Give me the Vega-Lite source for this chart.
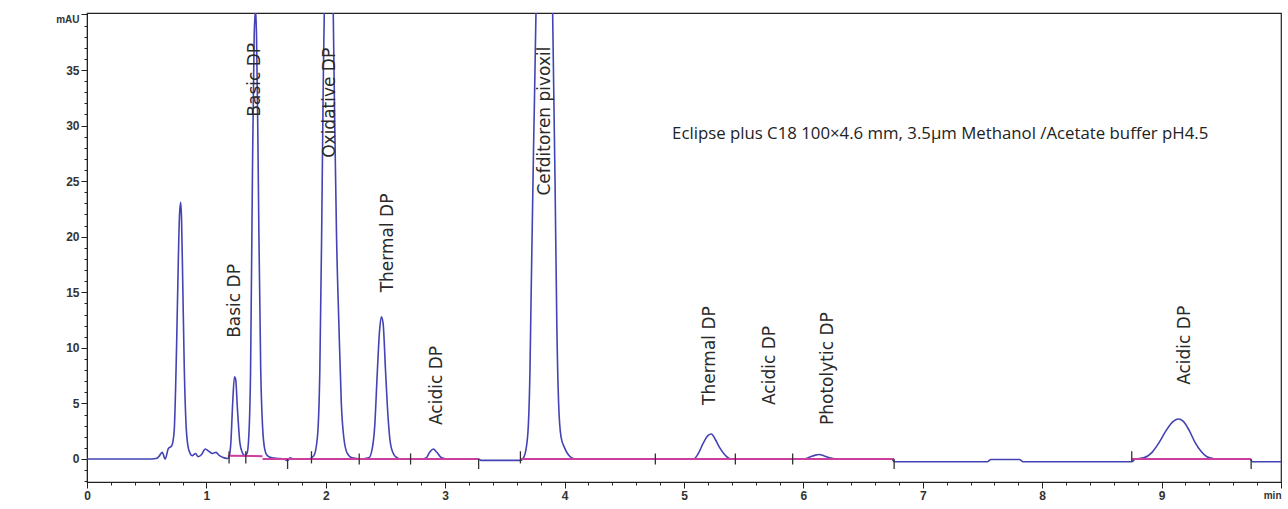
{
  "$schema": "https://vega.github.io/schema/vega-lite/v6.json",
  "width": 1194,
  "height": 469,
  "autosize": {"type": "none"},
  "padding": {"left": 87, "top": 13, "right": 7, "bottom": 27},
  "background": "white",
  "config": {
    "view": {"stroke": "#222", "strokeWidth": 1.2},
    "axis": {"grid": false, "domainColor": "#222", "tickColor": "#222", "labelColor": "#333", "labelFont": "Liberation Sans", "labelFontSize": 12, "labelFontWeight": "bold", "title": null, "labelOverlap": false, "labelBound": false, "labelFlush": false}
  },
  "datasets": {
    "trace": [
      {"t": 0, "v": 0}, {"t": 0.5, "v": 0}, {"t": 0.58, "v": 0.05}, {"t": 0.6, "v": 0.2}, {"t": 0.63, "v": 0.6}, {"t": 0.655, "v": 0.0},
      {"t": 0.68, "v": 0.9}, {"t": 0.71, "v": 1.2}, {"t": 0.73, "v": 2.5}, {"t": 0.75, "v": 10}, {"t": 0.765, "v": 18}, {"t": 0.775, "v": 22},
      {"t": 0.785, "v": 23.1}, {"t": 0.792, "v": 21.5}, {"t": 0.8, "v": 17}, {"t": 0.815, "v": 8}, {"t": 0.83, "v": 3}, {"t": 0.845, "v": 1.2},
      {"t": 0.86, "v": 0.6}, {"t": 0.88, "v": 0.3}, {"t": 0.91, "v": 0.5}, {"t": 0.93, "v": 0.2}, {"t": 0.96, "v": 0.4}, {"t": 0.99, "v": 0.9},
      {"t": 1.02, "v": 0.7}, {"t": 1.05, "v": 0.5}, {"t": 1.08, "v": 0.6}, {"t": 1.11, "v": 0.3}, {"t": 1.15, "v": 0.1}, {"t": 1.18, "v": 0.05},
      {"t": 1.19, "v": 0.2}, {"t": 1.205, "v": 1.5}, {"t": 1.22, "v": 5}, {"t": 1.235, "v": 7.4}, {"t": 1.245, "v": 7.2}, {"t": 1.26, "v": 4.5},
      {"t": 1.28, "v": 1.5}, {"t": 1.3, "v": 0.6}, {"t": 1.32, "v": 0.3}, {"t": 1.34, "v": 0.5}, {"t": 1.355, "v": 2}, {"t": 1.37, "v": 8},
      {"t": 1.385, "v": 25}, {"t": 1.4, "v": 38}, {"t": 1.412, "v": 40.5}, {"t": 1.42, "v": 38}, {"t": 1.43, "v": 30}, {"t": 1.44, "v": 20},
      {"t": 1.455, "v": 8}, {"t": 1.47, "v": 3}, {"t": 1.49, "v": 0.8}, {"t": 1.51, "v": 0.3}, {"t": 1.55, "v": 0.1}, {"t": 1.6, "v": 0.05},
      {"t": 1.65, "v": 0}, {"t": 1.68, "v": -0.15}, {"t": 1.7, "v": 0.1}, {"t": 1.73, "v": 0}, {"t": 1.85, "v": 0}, {"t": 1.9, "v": 0.3},
      {"t": 1.93, "v": 2}, {"t": 1.95, "v": 8}, {"t": 1.965, "v": 20}, {"t": 1.98, "v": 35}, {"t": 1.99, "v": 42}, {"t": 2.03, "v": 60},
      {"t": 2.06, "v": 42}, {"t": 2.075, "v": 30}, {"t": 2.09, "v": 20}, {"t": 2.11, "v": 12}, {"t": 2.13, "v": 5}, {"t": 2.15, "v": 2},
      {"t": 2.18, "v": 0.5}, {"t": 2.22, "v": 0.1}, {"t": 2.3, "v": 0}, {"t": 2.36, "v": 0.1}, {"t": 2.39, "v": 1}, {"t": 2.41, "v": 3},
      {"t": 2.43, "v": 7.5}, {"t": 2.45, "v": 11.5}, {"t": 2.465, "v": 12.8}, {"t": 2.48, "v": 12.2}, {"t": 2.5, "v": 8}, {"t": 2.52, "v": 4},
      {"t": 2.54, "v": 1.5}, {"t": 2.57, "v": 0.4}, {"t": 2.6, "v": 0.1}, {"t": 2.62, "v": 0}, {"t": 2.8, "v": 0}, {"t": 2.84, "v": 0.1},
      {"t": 2.87, "v": 0.6}, {"t": 2.9, "v": 0.9}, {"t": 2.93, "v": 0.6}, {"t": 2.96, "v": 0.2}, {"t": 2.99, "v": 0.05}, {"t": 3.02, "v": 0},
      {"t": 3.28, "v": 0}, {"t": 3.3, "v": -0.12}, {"t": 3.63, "v": -0.12}, {"t": 3.66, "v": 0.2}, {"t": 3.69, "v": 2}, {"t": 3.71, "v": 8},
      {"t": 3.72, "v": 15}, {"t": 3.74, "v": 28}, {"t": 3.76, "v": 40}, {"t": 3.78, "v": 60}, {"t": 3.83, "v": 75}, {"t": 3.88, "v": 60},
      {"t": 3.9, "v": 40}, {"t": 3.92, "v": 25}, {"t": 3.935, "v": 12}, {"t": 3.95, "v": 5}, {"t": 3.97, "v": 2}, {"t": 4.0, "v": 1},
      {"t": 4.03, "v": 0.4}, {"t": 4.06, "v": 0.1}, {"t": 4.1, "v": 0}, {"t": 5.08, "v": 0}, {"t": 5.12, "v": 0.5}, {"t": 5.16, "v": 1.4},
      {"t": 5.2, "v": 2.1}, {"t": 5.23, "v": 2.25}, {"t": 5.26, "v": 1.8}, {"t": 5.3, "v": 1.0}, {"t": 5.34, "v": 0.4}, {"t": 5.38, "v": 0.05},
      {"t": 5.42, "v": 0}, {"t": 6.0, "v": 0}, {"t": 6.05, "v": 0.15}, {"t": 6.1, "v": 0.35}, {"t": 6.13, "v": 0.4}, {"t": 6.17, "v": 0.3},
      {"t": 6.22, "v": 0.1}, {"t": 6.27, "v": 0}, {"t": 6.74, "v": 0}, {"t": 6.76, "v": -0.25}, {"t": 7.54, "v": -0.25}, {"t": 7.57, "v": -0.05},
      {"t": 7.81, "v": -0.05}, {"t": 7.84, "v": -0.25}, {"t": 8.75, "v": -0.25}, {"t": 8.78, "v": 0}, {"t": 8.85, "v": 0.1}, {"t": 8.92, "v": 0.6},
      {"t": 8.98, "v": 1.5}, {"t": 9.04, "v": 2.6}, {"t": 9.1, "v": 3.4}, {"t": 9.14, "v": 3.6}, {"t": 9.18, "v": 3.4}, {"t": 9.23, "v": 2.6},
      {"t": 9.28, "v": 1.5}, {"t": 9.33, "v": 0.7}, {"t": 9.38, "v": 0.2}, {"t": 9.43, "v": 0.05}, {"t": 9.47, "v": 0}, {"t": 9.74, "v": 0},
      {"t": 9.76, "v": -0.25}, {"t": 10, "v": -0.25}
    ],
    "base": [
      {"seg": "a", "t": 1.18, "v": 0.3}, {"seg": "a", "t": 1.47, "v": 0.25},
      {"seg": "b", "t": 1.47, "v": 0}, {"seg": "b", "t": 3.28, "v": 0},
      {"seg": "c", "t": 3.63, "v": 0}, {"seg": "c", "t": 6.76, "v": 0},
      {"seg": "d", "t": 8.75, "v": 0}, {"seg": "d", "t": 9.75, "v": 0}
    ],
    "events": [
      {"t": 1.19, "lo": -0.4, "hi": 0.7}, {"t": 1.33, "lo": -0.4, "hi": 0.7}, {"t": 1.68, "lo": -0.9, "hi": 0},
      {"t": 1.88, "lo": -0.4, "hi": 0.7}, {"t": 2.28, "lo": -0.5, "hi": 0.5}, {"t": 2.71, "lo": -0.5, "hi": 0.5},
      {"t": 3.28, "lo": -0.9, "hi": 0}, {"t": 3.63, "lo": -0.4, "hi": 0.7}, {"t": 4.76, "lo": -0.5, "hi": 0.5},
      {"t": 5.43, "lo": -0.5, "hi": 0.5}, {"t": 5.91, "lo": -0.5, "hi": 0.5}, {"t": 6.76, "lo": -0.9, "hi": 0},
      {"t": 8.75, "lo": -0.2, "hi": 0.7}, {"t": 9.75, "lo": -0.9, "hi": 0}
    ],
    "labels": [
      {"name": "Basic DP", "t": 1.239, "v": 10.9},
      {"name": "Basic DP", "t": 1.407, "v": 30.8},
      {"name": "Oxidative DP", "t": 2.035, "v": 27.1},
      {"name": "Thermal DP", "t": 2.52, "v": 15.0},
      {"name": "Acidic DP", "t": 2.93, "v": 3.06},
      {"name": "Cefditoren pivoxil", "t": 3.835, "v": 23.7},
      {"name": "Thermal DP", "t": 5.216, "v": 4.86},
      {"name": "Acidic DP", "t": 5.718, "v": 4.86},
      {"name": "Photolytic DP", "t": 6.204, "v": 3.06},
      {"name": "Acidic DP", "t": 9.2, "v": 6.67}
    ],
    "note": [
      {"text": "Eclipse plus C18 100×4.6 mm, 3.5µm Methanol /Acetate buffer pH4.5", "t": 4.9, "v": 29.2}
    ]
  },
  "layer": [
    {
      "data": {"name": "trace"},
      "mark": {"type": "line", "color": "#4343b4", "strokeWidth": 1.6, "clip": true, "interpolate": "monotone"},
      "encoding": {
        "x": {"field": "t", "type": "quantitative", "scale": {"domain": [0, 10], "nice": false, "zero": false},
          "axis": {"orient": "bottom", "tickCount": 200,
            "values": [0,0.2,0.4,0.6,0.8,1,1.2,1.4,1.6,1.8,2,2.2,2.4,2.6,2.8,3,3.2,3.4,3.6,3.8,4,4.2,4.4,4.6,4.8,5,5.2,5.4,5.6,5.8,6,6.2,6.4,6.6,6.8,7,7.2,7.4,7.6,7.8,8,8.2,8.4,8.6,8.8,9,9.2,9.4,9.6,9.8,10],
            "tickSize": {"condition": {"test": "abs(datum.value - round(datum.value)) < 0.001", "value": 6}, "value": 3},
            "labelPadding": 2,
            "labelExpr": "abs(datum.value - round(datum.value)) > 0.001 ? '' : (datum.value == 10 ? 'min' : format(datum.value, 'd'))",
            "labelFontSize": {"condition": {"test": "datum.value == 10", "value": 10}, "value": 12},
            "labelAlign": {"condition": {"test": "datum.value == 10", "value": "right"}, "value": "center"},
            "labelOverlap": false}},
        "y": {"field": "v", "type": "quantitative", "scale": {"domain": [-2.07, 40.13], "nice": false, "zero": false},
          "axis": {"orient": "left", "tickCount": 200,
            "values": [-2,-1,0,1,2,3,4,5,6,7,8,9,10,11,12,13,14,15,16,17,18,19,20,21,22,23,24,25,26,27,28,29,30,31,32,33,34,35,36,37,38,39,40],
            "tickSize": {"condition": {"test": "datum.value % 5 == 0", "value": 6}, "value": 3},
            "labelPadding": 2,
            "labelExpr": "datum.value % 5 != 0 || datum.value < 0 ? '' : (datum.value == 40 ? 'mAU' : format(datum.value, 'd'))",
            "labelFontSize": {"condition": {"test": "datum.value == 40", "value": 10}, "value": 12},
            "labelBaseline": {"condition": {"test": "datum.value == 40", "value": "top"}, "value": "middle"},
            "labelOverlap": false}}
      }
    },
    {
      "data": {"name": "base"},
      "mark": {"type": "line", "color": "#cc3f9f", "strokeWidth": 2, "clip": true},
      "encoding": {
        "x": {"field": "t", "type": "quantitative"},
        "y": {"field": "v", "type": "quantitative"},
        "detail": {"field": "seg"}
      }
    },
    {
      "data": {"name": "events"},
      "mark": {"type": "rule", "color": "#333", "strokeWidth": 1.3},
      "encoding": {
        "x": {"field": "t", "type": "quantitative"},
        "y": {"field": "lo", "type": "quantitative"},
        "y2": {"field": "hi"}
      }
    },
    {
      "data": {"name": "labels"},
      "mark": {"type": "text", "angle": 270, "align": "left", "baseline": "middle", "font": "DejaVu Sans", "fontSize": 17, "color": "#2a2a2a"},
      "encoding": {
        "x": {"field": "t", "type": "quantitative"},
        "y": {"field": "v", "type": "quantitative"},
        "text": {"field": "name"}
      }
    },
    {
      "data": {"name": "note"},
      "mark": {"type": "text", "align": "left", "baseline": "middle", "font": "Open Sans", "fontSize": 16.8, "color": "#222"},
      "encoding": {
        "x": {"field": "t", "type": "quantitative"},
        "y": {"field": "v", "type": "quantitative"},
        "text": {"field": "text"}
      }
    }
  ]
}
